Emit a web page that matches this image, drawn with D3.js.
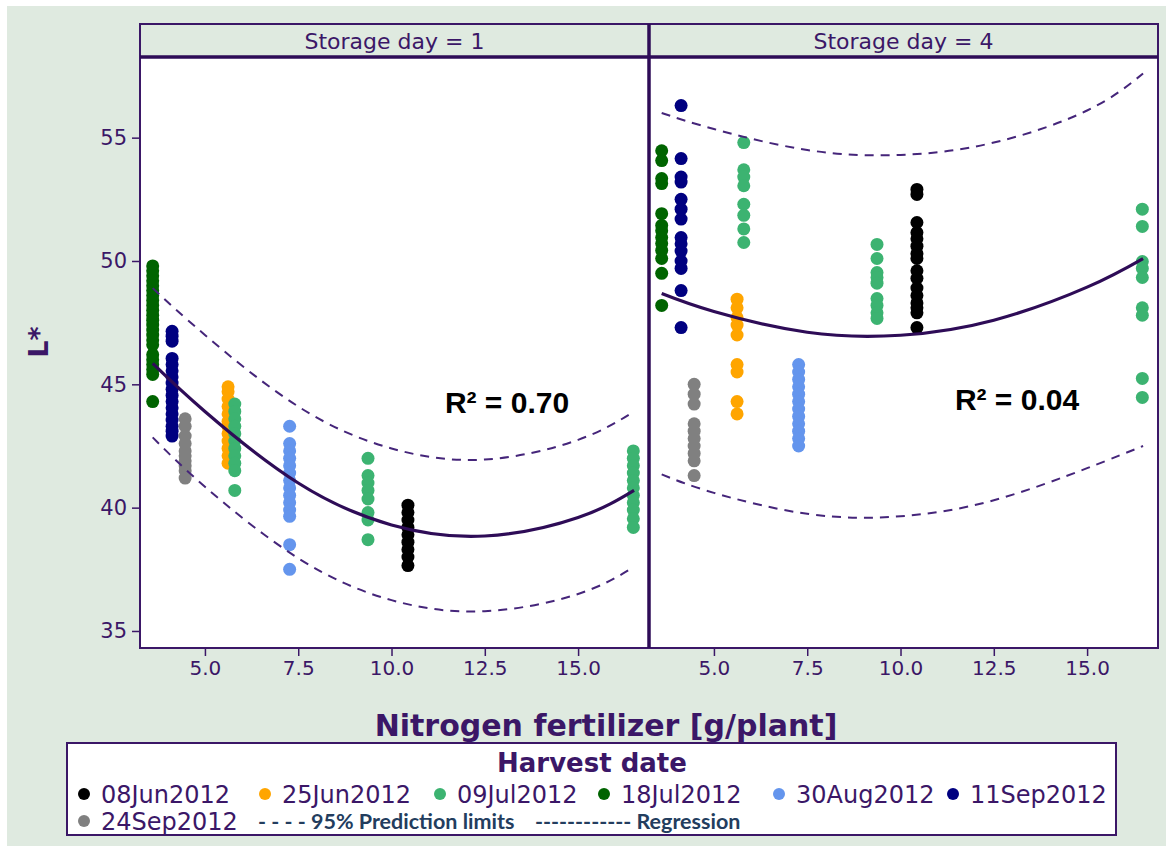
<!DOCTYPE html>
<html>
<head>
<meta charset="utf-8">
<script src="https://cdn.jsdelivr.net/npm/d3@7"></script>
<style>
  body { margin: 0; background: #fff; }
  svg text { font-family: "DejaVu Sans", Verdana, sans-serif; }
</style>
</head>
<body>
<svg width="1166" height="846"></svg>
<script>

// harvest dates (legend order) and their marker colours
var harvestDates = ["08Jun2012", "25Jun2012", "09Jul2012", "18Jul2012", "30Aug2012", "11Sep2012", "24Sep2012"];
var dateColors = ["#000000", "#ffa500", "#3cb371", "#006400", "#6495ed", "#000080", "#808080"];

// each column of points: its harvest date and nitrogen level
var columnDates = ["18Jul2012", "11Sep2012", "24Sep2012", "25Jun2012", "09Jul2012", "30Aug2012", "09Jul2012", "08Jun2012", "09Jul2012"];
var columnN = [3.6, 4.12, 4.47, 5.62, 5.8, 7.27, 9.37, 10.44, 16.48];

// L* readings, storage day 1
var day1Values = [
  [49.8, 49.6, 49.4, 49.2, 49.0, 48.8, 48.6, 48.4, 48.2, 48.0, 47.8, 47.6, 47.4, 47.2, 47.0, 46.8, 46.6, 46.2, 46.0, 45.8, 45.6, 45.4, 44.3],
  [47.15, 46.95, 46.75, 46.05, 45.8, 45.55, 45.3, 45.05, 44.8, 44.55, 44.3, 44.05, 43.8, 43.55, 43.3, 43.1, 42.9],
  [43.6, 43.3, 42.9, 42.6, 42.3, 42.1, 41.9, 41.7, 41.5, 41.2],
  [44.9, 44.7, 44.4, 44.1, 43.8, 43.5, 43.3, 43.0, 42.7, 42.4, 42.1, 41.8],
  [44.2, 43.9, 43.6, 43.3, 43.0, 42.7, 42.4, 42.1, 41.8, 41.5, 40.7],
  [43.3, 42.6, 42.3, 42.0, 41.7, 41.4, 41.1, 40.8, 40.5, 40.2, 39.9, 39.65, 38.5, 37.5],
  [42.0, 41.3, 41.0, 40.7, 40.35, 39.8, 39.5, 38.7],
  [40.1, 39.8, 39.5, 39.2, 38.9, 38.6, 38.3, 38.0, 37.65],
  [42.3, 42.0, 41.7, 41.4, 41.1, 40.8, 40.5, 40.2, 39.9, 39.55, 39.2]
];

// L* readings, storage day 4
var day4Values = [
  [54.47, 54.07, 53.34, 53.14, 51.92, 51.44, 51.23, 50.95, 50.71, 50.43, 50.1, 49.5, 48.2],
  [56.3, 54.15, 53.4, 53.2, 52.5, 52.1, 51.7, 50.95, 50.7, 50.4, 50.0, 49.7, 48.8, 47.3],
  [45.0, 44.6, 44.2, 43.4, 43.1, 42.8, 42.5, 42.2, 41.9, 41.3],
  [48.45, 48.1, 47.7, 47.4, 47.0, 45.8, 45.5, 44.3, 43.8],
  [54.8, 53.7, 53.4, 53.05, 52.3, 51.85, 51.3, 50.75],
  [45.8, 45.5, 45.2, 44.9, 44.6, 44.3, 44.0, 43.7, 43.4, 43.1, 42.8, 42.5],
  [50.67, 50.1, 49.53, 49.33, 49.1, 48.48, 48.2, 47.9, 47.67],
  [52.9, 52.7, 51.56, 51.15, 50.9, 50.6, 50.3, 50.1, 49.6, 49.3, 48.9, 48.6, 48.3, 48.1, 47.9, 47.3],
  [52.1, 51.4, 49.98, 49.7, 49.33, 48.1, 47.8, 45.24, 44.47]
];

var curveN = [3.6, 5, 7.5, 10, 12.5, 15, 16.5];
var day1Fit = [45.85, 43.9, 41.0, 39.3, 38.85, 39.6, 40.7];
var day1Upper = [48.9, 47.0, 44.1, 42.4, 41.95, 42.75, 43.9];
var day1Lower = [42.85, 40.85, 37.95, 36.25, 35.8, 36.5, 37.6];
var day4Fit = [48.68, 47.95, 47.11, 46.99, 47.6, 48.94, 50.1];
var day4Upper = [56.0, 55.35, 54.5, 54.3, 54.8, 56.1, 57.6];
var day4Lower = [41.35, 40.6, 39.75, 39.65, 40.3, 41.6, 42.5];

var panelTitles = ["Storage day = 1", "Storage day = 4"];
var r2Labels = ["R\u00b2 = 0.70", "R\u00b2 = 0.04"];
var yTicks = [35, 40, 45, 50, 55];
var xTicks = [5, 7.5, 10, 12.5, 15];

var purple = "#3b1767";
var bg = "#dfeae0";

var svg = d3.select("svg");

svg.append("rect").attr("x", 7).attr("y", 6).attr("width", 1159).attr("height", 840).attr("fill", bg);

var panelW = 509,
    topY = 24, stripH = 33, bottomY = 648,
    panelX = [140, 649];

var x = d3.scaleLinear().domain([3.26, 16.9]).range([0, panelW]);
var y = d3.scaleLinear().domain([34.31, 58.27]).range([bottomY, topY + stripH]);

var colorOf = d3.scaleOrdinal().domain(harvestDates).range(dateColors);

var panels = [
  { vals: day1Values, fit: day1Fit, up: day1Upper, lo: day1Lower, r2x: 507, r2y: 413 },
  { vals: day4Values, fit: day4Fit, up: day4Upper, lo: day4Lower, r2x: 1017, r2y: 410 }
];

var line = d3.line().curve(d3.curveNatural);

panels.forEach(function(p, i) {
  var g = svg.append("g").attr("transform", "translate(" + panelX[i] + ",0)");

  g.append("rect").attr("x", 0).attr("y", topY + stripH).attr("width", panelW).attr("height", bottomY - topY - stripH).attr("fill", "#fff");
  g.append("rect").attr("x", 0).attr("y", topY).attr("width", panelW).attr("height", stripH).attr("fill", bg);

  // points
  var pts = [];
  p.vals.forEach(function(col, c) {
    col.forEach(function(v) { pts.push({ n: columnN[c], v: v, date: columnDates[c] }); });
  });
  g.selectAll("circle.pt").data(pts).enter().append("circle")
    .attr("class", "pt")
    .attr("cx", function(d) { return x(d.n); })
    .attr("cy", function(d) { return y(d.v); })
    .attr("r", 6.5)
    .attr("fill", function(d) { return colorOf(d.date); });

  // limits and regression
  [p.up, p.lo].forEach(function(arr) {
    g.append("path")
      .attr("d", line(curveN.map(function(n, k) { return [x(n), y(arr[k])]; })))
      .attr("fill", "none").attr("stroke", "#45257a").attr("stroke-width", 2)
      .attr("stroke-dasharray", "9,7");
  });
  g.append("path")
    .attr("d", line(curveN.map(function(n, k) { return [x(n), y(p.fit[k])]; })))
    .attr("fill", "none").attr("stroke", "#2e0c57").attr("stroke-width", 3.2);

  // frame
  g.append("rect").attr("x", 0).attr("y", topY).attr("width", panelW).attr("height", bottomY - topY)
    .attr("fill", "none").attr("stroke", purple).attr("stroke-width", 2);
  g.append("line").attr("x1", 0).attr("x2", panelW).attr("y1", topY + stripH).attr("y2", topY + stripH)
    .attr("stroke", "#2e0c57").attr("stroke-width", 3.5);

  g.append("text").attr("x", panelW / 2).attr("y", topY + 25).attr("text-anchor", "middle")
    .attr("font-size", 22).attr("fill", purple).text(panelTitles[i]);

  g.append("text").attr("x", p.r2x - panelX[i]).attr("y", p.r2y).attr("text-anchor", "middle")
    .style("font-family", "'Liberation Sans', Arial, sans-serif")
    .attr("font-size", 30).attr("font-weight", "bold").attr("fill", "#000").text(r2Labels[i]);

  // x axis
  var xa = g.append("g").attr("transform", "translate(0," + bottomY + ")")
    .call(d3.axisBottom(x).tickValues(xTicks).tickFormat(d3.format(".1f")).tickSize(8).tickPadding(5));
  xa.select(".domain").remove();
  xa.selectAll("line").attr("stroke", purple).attr("stroke-width", 1.5);
  xa.selectAll("text").attr("fill", purple).attr("font-size", 20).style("font-family", "'DejaVu Sans', Verdana, sans-serif");
});

// divider between panels
svg.append("line").attr("x1", panelX[1]).attr("x2", panelX[1]).attr("y1", topY).attr("y2", bottomY)
  .attr("stroke", "#2e0c57").attr("stroke-width", 3.5);

// y axis
var ya = svg.append("g").attr("transform", "translate(" + panelX[0] + ",0)")
  .call(d3.axisLeft(y).tickValues(yTicks).tickSize(8).tickPadding(5));
ya.select(".domain").remove();
ya.selectAll("line").attr("stroke", purple).attr("stroke-width", 1.5);
ya.selectAll("text").attr("fill", purple).attr("font-size", 21).style("font-family", "'DejaVu Sans', Verdana, sans-serif");

svg.append("text").attr("transform", "translate(48,342) rotate(-90)").attr("text-anchor", "middle")
  .attr("font-size", 27).attr("font-weight", "bold").attr("fill", purple).text("L*");

svg.append("text").attr("x", 606).attr("y", 736).attr("text-anchor", "middle")
  .attr("font-size", 30).attr("font-weight", "bold").attr("fill", purple).text("Nitrogen fertilizer [g/plant]");

// legend
var lg = svg.append("g");
lg.append("rect").attr("x", 67).attr("y", 743).attr("width", 1049).attr("height", 92)
  .attr("fill", "#fff").attr("stroke", purple).attr("stroke-width", 2);
lg.append("text").attr("x", 592).attr("y", 772).attr("text-anchor", "middle")
  .attr("font-size", 26).attr("font-weight", "bold").attr("fill", purple).text("Harvest date");

var legendPos = [[84, 794], [265, 794], [440, 794], [604, 794], [779, 794], [953, 794], [84, 821]];
harvestDates.forEach(function(d, i) {
  var pos = legendPos[i];
  lg.append("circle").attr("cx", pos[0]).attr("cy", pos[1]).attr("r", 6).attr("fill", colorOf(d));
  lg.append("text").attr("x", pos[0] + 17).attr("y", pos[1] + 9).attr("font-size", 24)
    .attr("fill", purple).text(d);
});
lg.append("text").attr("x", 258).attr("y", 829).attr("font-size", 21.5).attr("font-weight", "bold")
  .style("font-family", "Lato, 'Open Sans', sans-serif").attr("fill", "#233d5e")
  .text("- - - - 95% Prediction limits");
lg.append("text").attr("x", 535).attr("y", 829).attr("font-size", 21.5).attr("font-weight", "bold")
  .style("font-family", "Lato, 'Open Sans', sans-serif").attr("fill", "#233d5e")
  .text("------------ Regression");

</script>
</body>
</html>
